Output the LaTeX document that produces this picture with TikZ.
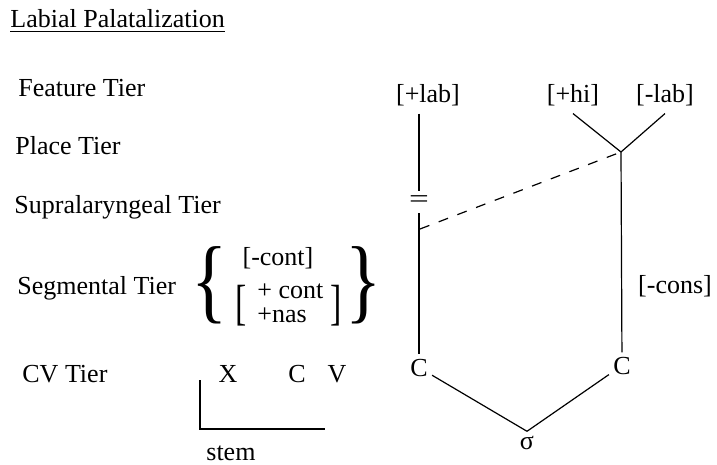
\documentclass[tikz,border=0pt]{standalone}
\usepackage{fontspec}
\usepackage{graphicx}
\setmainfont{Liberation Serif}
\begin{document}
\begin{tikzpicture}[x=0.5pt,y=-0.5pt,
  every node/.style={font=\fontsize{13}{15.6}\selectfont},
  lbl/.style={anchor=base west, inner sep=0pt},
  feat/.style={anchor=base},
  seg/.style={inner sep=2pt, anchor=base},
  edge/.style={line width=0.6pt}]
\useasboundingbox (0,0) rectangle (717,465);
% title and tier labels
\node[lbl] (title) at (10,28) {\underline{Labial Palatalization}};
\node[lbl] (ft) at (18,97) {Feature Tier};
\node[lbl] (pt) at (15,155) {Place Tier};
\node[lbl] (st) at (14,213) {Supralaryngeal Tier};
\node[lbl] (sg) at (17,294) {Segmental Tier};
\node[lbl] (cv) at (22,382) {CV Tier};
% segmental braces
\node[inner sep=0pt] (lbr) at (210,285) {\scalebox{2.9}[3.6]{\{}};
\node[inner sep=0pt] (rbr) at (364,285) {\scalebox{2.9}[3.6]{\}}};
\node[feat] (cont) at (278,265) {[-cont]};
\node[inner sep=0pt] (lsq) at (241,306) {\scalebox{1.3}[1.9]{[}};
\node[inner sep=0pt] (rsq) at (336,306) {\scalebox{1.3}[1.9]{]}};
\node[lbl] (pcont) at (257,298) {+ cont};
\node[lbl] (pnas) at (257,322) {+nas};
% CV tier left
\node[feat] (x) at (228,382) {X};
\node[feat] (cl) at (297,382) {C};
\node[feat] (v) at (337,382) {V};
\node[lbl] (stem) at (206,460) {stem};
\coordinate (s1) at (200,380);
\coordinate (s2) at (200,429);
\coordinate (s3) at (325,429);
\draw[edge] (s1) -- (s2) -- (s3);
% right tree
\node[feat] (lab) at (428,103) {[+lab]};
\node[feat] (hi) at (573,103) {[+hi]};
\node[feat] (nlab) at (665,103) {[-lab]};
\coordinate (place) at (621,152);
\node[inner sep=2.5pt] (supra) at (419,202) {\scalebox{1.35}[1]{=}};
\node[seg] (c1) at (419,376) {C};
\node[seg] (c2) at (622,374) {C};
\node[seg] (sig) at (527,449) {σ};
\node[feat] (cons) at (675,293) {[-cons]};
\coordinate (dst) at (420,229);
\draw[edge] (supra |- lab.south) -- (supra);
\draw[edge] (supra) -- (c1);
\draw[edge] (hi.south) -- (place);
\draw[edge] (nlab.south) -- (place);
\draw[edge] (place) -- (c2);
\draw[edge] (c1) -- (sig.north);
\draw[edge] (c2) -- (sig.north);
\draw[edge, dash pattern=on 5pt off 5pt] (dst) -- (place);
\end{tikzpicture}
\end{document}
